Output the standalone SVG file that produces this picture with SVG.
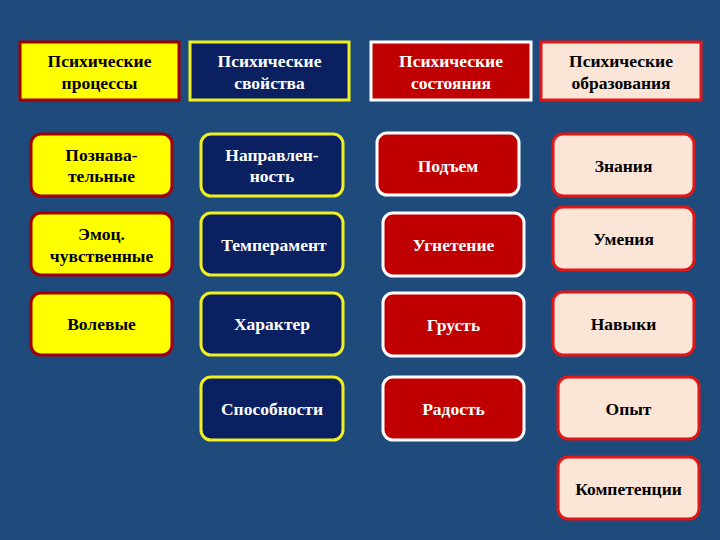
<svg xmlns="http://www.w3.org/2000/svg" width="720" height="540" viewBox="0 0 720 540">
<style>
text{font-family:"Liberation Serif","Times New Roman",serif;font-weight:bold;font-size:17.5px;text-anchor:middle;dominant-baseline:central}
.y rect{fill:#ffff00;stroke:#a00000;stroke-width:3}
.n rect{fill:#0b2060;stroke:#f0f020;stroke-width:3}
.r rect{fill:#c00000;stroke:#ffffff;stroke-width:3}
.p rect{fill:#fbe5d6;stroke:#e01818;stroke-width:3}
.y text,.p text{fill:#000}
.n text,.r text{fill:#fff}
</style>
<rect width="720" height="540" fill="#1f4a7c"/>
<g id="h1" class="y"><rect x="20" y="42" width="159" height="58"/><text x="99.5" y="61">Психические</text><text x="99.5" y="83">процессы</text></g>
<g id="h2" class="n"><rect x="190" y="42" width="159" height="58"/><text x="269.5" y="61">Психические</text><text x="269.5" y="83">свойства</text></g>
<g id="h3" class="r"><rect x="371" y="42" width="160" height="58"/><text x="451" y="61">Психические</text><text x="451" y="83">состояния</text></g>
<g id="h4" class="p"><rect x="541" y="42" width="160" height="58"/><text x="621" y="61">Психические</text><text x="621" y="83">образования</text></g>

<g id="c1a" class="y"><rect x="31" y="134" width="141" height="62" rx="10"/><text x="101.5" y="155">Познава-</text><text x="101.5" y="176">тельные</text></g>
<g id="c1b" class="y"><rect x="31" y="213" width="141" height="62" rx="10"/><text x="101.5" y="234">Эмоц.</text><text x="101.5" y="256">чувственные</text></g>
<g id="c1c" class="y"><rect x="31" y="293" width="141" height="62" rx="10"/><text x="101.5" y="324">Волевые</text></g>

<g id="c2a" class="n"><rect x="201" y="134" width="142" height="62" rx="10"/><text x="272" y="155">Направлен-</text><text x="272" y="176">ность</text></g>
<g id="c2b" class="n"><rect x="201" y="213" width="142" height="62" rx="10"/><text x="274" y="245">Темперамент</text></g>
<g id="c2c" class="n"><rect x="201" y="293" width="142" height="62" rx="10"/><text x="272" y="324">Характер</text></g>
<g id="c2d" class="n"><rect x="201" y="377" width="142" height="63" rx="10"/><text x="272" y="409">Способности</text></g>

<g id="c3a" class="r"><rect x="377" y="133" width="142" height="62" rx="10"/><text x="448" y="166">Подъем</text></g>
<g id="c3b" class="r"><rect x="383" y="213" width="141" height="63" rx="10"/><text x="453.5" y="245">Угнетение</text></g>
<g id="c3c" class="r"><rect x="383" y="293" width="141" height="63" rx="10"/><text x="453.5" y="325">Грусть</text></g>
<g id="c3d" class="r"><rect x="383" y="377" width="141" height="63" rx="10"/><text x="453.5" y="409">Радость</text></g>

<g id="c4a" class="p"><rect x="553" y="134" width="141" height="62" rx="10"/><text x="623.5" y="166">Знания</text></g>
<g id="c4b" class="p"><rect x="553" y="207" width="141" height="63" rx="10"/><text x="623.5" y="239">Умения</text></g>
<g id="c4c" class="p"><rect x="553" y="292" width="141" height="63" rx="10"/><text x="623.5" y="324">Навыки</text></g>
<g id="c4d" class="p"><rect x="558" y="377" width="141" height="62" rx="10"/><text x="628.5" y="409">Опыт</text></g>
<g id="c4e" class="p"><rect x="558" y="457" width="141" height="62" rx="10"/><text x="628.5" y="489">Компетенции</text></g>
<g id="connectors"/>
</svg>
